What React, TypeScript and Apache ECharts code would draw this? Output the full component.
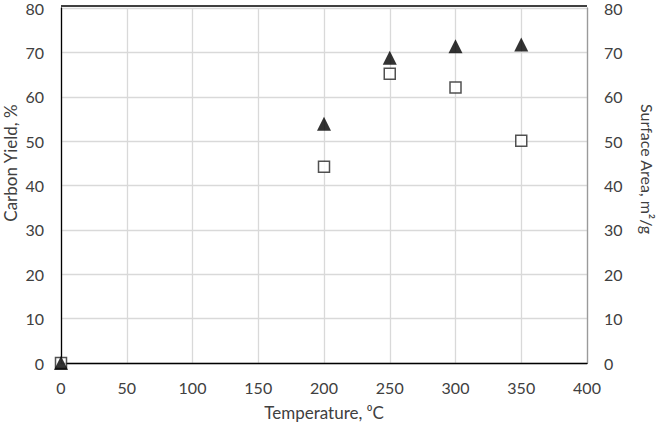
import React, { useEffect, useRef } from "react";
import * as echarts from "echarts";

const temperatures = [0, 200, 250, 300, 350];
const carbonYield = [0, 53.9, 68.8, 71.4, 71.8];
const surfaceArea = [0, 44.2, 65.2, 62.1, 50.1];
const xTicks = [0, 50, 100, 150, 200, 250, 300, 350, 400];
const yTicks = [0, 10, 20, 30, 40, 50, 60, 70, 80];

const FONT = "Lato, 'Open Sans', sans-serif";
const TXT = "#404040";
const TICK_FS = 16;
const TITLE_FS = 17;

export default function App() {
  const ref = useRef<HTMLDivElement>(null);
  useEffect(() => {
    if (!ref.current) return;
    const chart = echarts.init(ref.current, undefined, { renderer: "svg" });
    const yAxisBase = (pos: "left" | "right") => ({
      type: "value" as const,
      position: pos,
      min: yTicks[0],
      max: yTicks[yTicks.length - 1],
      interval: 10,
      axisLine: { show: true, lineStyle: { color: pos === "left" ? "#000" : "#9a9a9a", width: 1.3 } },
      axisTick: { show: false },
      axisLabel: { color: TXT, fontSize: TICK_FS, fontFamily: FONT, margin: 17 },
      splitLine: { show: pos === "left", lineStyle: { color: "#d9d9d9", width: 1.3 } },
    });
    chart.setOption({
      animation: false,
      backgroundColor: "#fff",
      grid: { left: 61, right: 71, top: 6, bottom: 62, show: false },
      xAxis: {
        type: "value",
        min: xTicks[0],
        max: xTicks[xTicks.length - 1],
        interval: 50,
        axisLine: { show: true, onZero: false, lineStyle: { color: "#000", width: 1.3 } },
        axisTick: { show: false },
        axisLabel: { color: TXT, fontSize: TICK_FS, fontFamily: FONT, margin: 16 },
        splitLine: { show: true, lineStyle: { color: "#d9d9d9", width: 1.3 } },
      },
      yAxis: [yAxisBase("left"), yAxisBase("right")],
      graphic: [
        {
          type: "line",
          shape: { x1: 61, y1: 6, x2: 587, y2: 6 },
          style: { stroke: "#000", lineWidth: 1.3 },
          z: 10,
        },
        {
          type: "text",
          x: 324,
          y: 412,
          style: { text: "Temperature, ⁰C", fill: TXT, font: `${TITLE_FS}px ${FONT}`, align: "center", verticalAlign: "middle" },
        },
        {
          type: "text",
          x: 10,
          y: 163,
          rotation: Math.PI / 2,
          style: { text: "Carbon Yield, %", fill: TXT, font: `${TITLE_FS}px ${FONT}`, align: "center", verticalAlign: "middle" },
        },
        {
          type: "text",
          x: 647,
          y: 169,
          rotation: -Math.PI / 2,
          style: { text: "Surface Area, m²/g", fill: TXT, font: `16px ${FONT}`, align: "center", verticalAlign: "middle" },
        },
      ],
      series: [
        {
          name: "Surface Area",
          type: "scatter",
          yAxisIndex: 1,
          symbol: "rect",
          symbolSize: 11,
          itemStyle: { color: "#fff", borderColor: "#262626", borderWidth: 1.5 },
          data: temperatures.map((t, i) => [t, surfaceArea[i]]),
          z: 3,
        },
        {
          name: "Carbon Yield",
          type: "scatter",
          yAxisIndex: 0,
          symbol: "triangle",
          symbolSize: 14,
          itemStyle: { color: "#000" },
          data: temperatures.map((t, i) => [t, carbonYield[i]]),
          z: 4,
        },
      ],
    });
    return () => chart.dispose();
  }, []);
  return <div ref={ref} style={{ width: 658, height: 425, position: "fixed", left: 0, top: 0 }} />;
}
